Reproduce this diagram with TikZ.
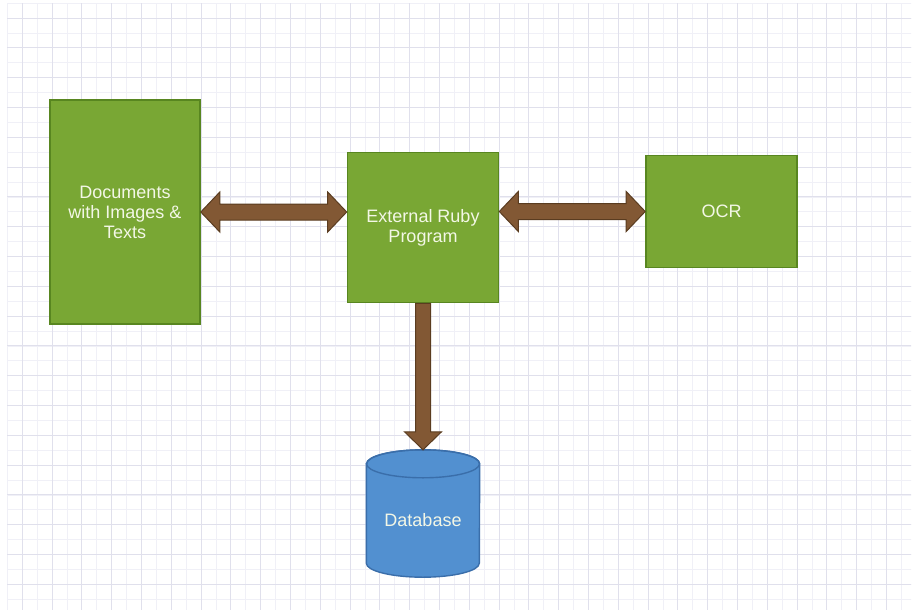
\documentclass[tikz,border=0pt]{standalone}
\usepackage{fontspec}
\setmainfont{Liberation Sans}
\usetikzlibrary{calc}
\definecolor{boxgreen}{RGB}{121,167,52}
\definecolor{boxgreenline}{RGB}{88,134,32}
\definecolor{arrowbrown}{RGB}{130,88,52}
\definecolor{arrowline}{RGB}{90,60,32}
\definecolor{dbblue}{RGB}{82,144,208}
\definecolor{dbline}{RGB}{58,110,170}
\definecolor{gridminor}{RGB}{240,240,247}
\definecolor{gridmajor}{RGB}{224,224,236}
\definecolor{textcream}{RGB}{243,247,230}
\pgfdeclarelayer{bg}
\pgfdeclarelayer{mid}
\pgfsetlayers{bg,mid,main}
\begin{document}
\begin{tikzpicture}[x=1pt,y=-1pt,
  greenbox/.style={draw=boxgreenline, line width=1.6pt, fill=boxgreen, text=textcream,
    align=center, font=\fontsize{18}{20}\selectfont, inner sep=0pt},
  dbtext/.style={text=textcream, font=\fontsize{18}{20}\selectfont, inner sep=0pt},
  dbshape/.style={draw=dbline, fill=dbblue, line width=1.4pt},
  blockarrow/.style={draw=arrowline, fill=arrowbrown, line width=1pt, line join=miter},
  minorline/.style={draw=gridminor, line width=0.8pt},
  majorline/.style={draw=gridmajor, line width=0.9pt}]
\useasboundingbox (0,0) rectangle (917,610);
\begin{pgfonlayer}{bg}
\fill[white] (0,0) rectangle (917,610);
\begin{scope}
\clip (7,4) rectangle (911,610);
\foreach \i in {0,...,61} {
  \draw[minorline] ({7.3+14.9*\i},0) -- ({7.3+14.9*\i},610);
  \draw[minorline] (0,{3.2+14.9*\i}) -- (917,{3.2+14.9*\i});
}
\foreach \i in {0,...,31} {
  \draw[majorline] ({22.2+29.8*\i},0) -- ({22.2+29.8*\i},610);
  \draw[majorline] (0,{18.1+29.8*\i}) -- (917,{18.1+29.8*\i});
}
\end{scope}
\end{pgfonlayer}

\node[greenbox, minimum width=150pt, minimum height=224pt] (docs) at (125,212) {Documents\\with Images \&\\Texts};
\node[greenbox, minimum width=151pt, minimum height=150pt] (ruby) at (423,227.5) {External Ruby\\Program};
\node[greenbox, minimum width=151pt, minimum height=112pt] (ocr) at (721.5,211.5) {OCR};
\node[dbtext, minimum width=113pt, minimum height=140pt] (db) at (423,520) {Database};

\begin{pgfonlayer}{mid}
\filldraw[dbshape] ($(db.north west)+(0,14)$) -- ($(db.south west)+(0,-27)$)
  arc[start angle=180, end angle=360, x radius=56.5pt, y radius=14pt]
  -- ($(db.north east)+(0,14)$)
  arc[start angle=0, end angle=180, x radius=56.5pt, y radius=14pt] -- cycle;
\draw[dbshape, fill=none] ($(db.north)+(0,14)$) ellipse[x radius=56.5pt, y radius=14pt];
\end{pgfonlayer}

% docs <-> ruby
\draw[blockarrow] (docs.east) -- ++(19,-20) -- ++(0,12)
  -- ($(ruby.west |- docs.east)+(-19,-8)$) -- ++(0,-12) -- (ruby.west |- docs.east)
  -- ++(-19,20) -- ++(0,-12) -- ($(docs.east)+(19,8)$) -- ++(0,12) -- cycle;
% ruby <-> ocr
\draw[blockarrow] (ruby.east |- ocr.west) -- ++(19,-20) -- ++(0,12)
  -- ($(ocr.west)+(-19,-8)$) -- ++(0,-12) -- (ocr.west)
  -- ++(-19,20) -- ++(0,-12) -- ($(ruby.east |- ocr.west)+(19,8)$) -- ++(0,12) -- cycle;
% ruby -> db
\draw[blockarrow] ($(ruby.south)+(-7.5,0)$) -- ($(db.north)+(-7.5,-18)$) -- ++(-11,0)
  -- (db.north) -- ++(18.5,-18) -- ++(-11,0) -- ($(ruby.south)+(7.5,0)$) -- cycle;
\end{tikzpicture}
\end{document}
